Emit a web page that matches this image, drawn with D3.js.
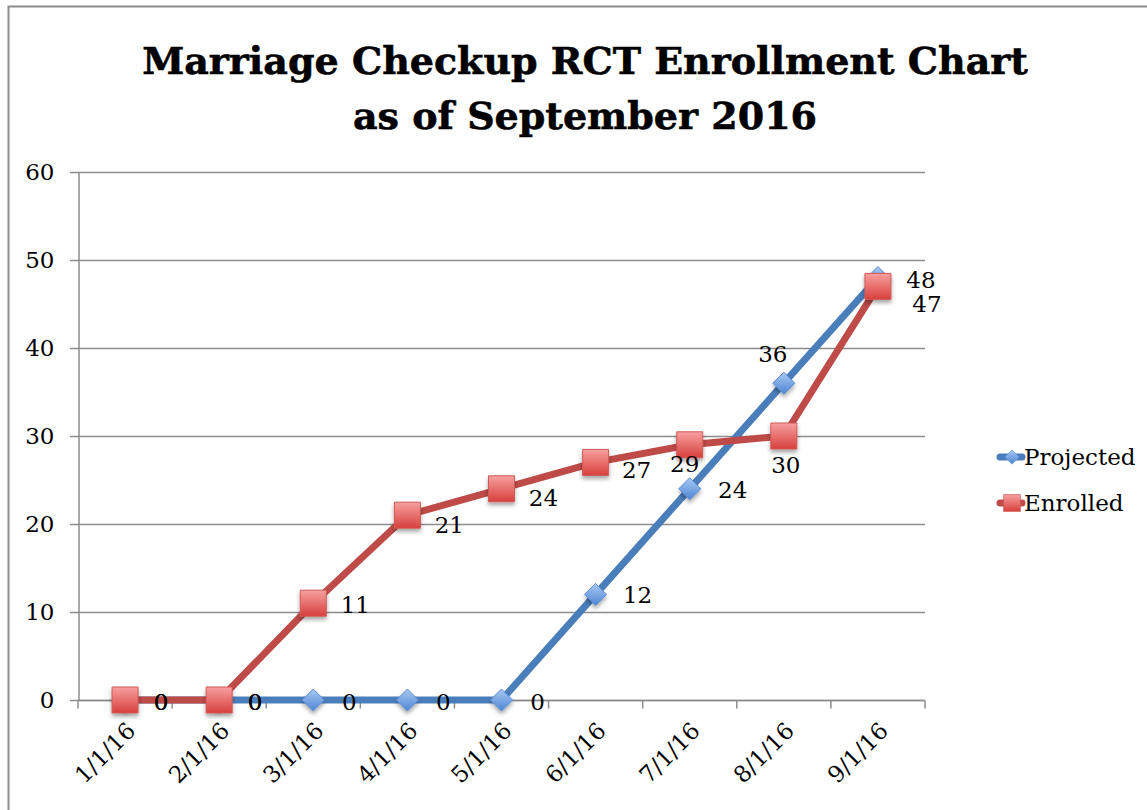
<!DOCTYPE html>
<html>
<head>
<meta charset="utf-8">
<script src="https://cdn.jsdelivr.net/npm/d3@7"></script>
<style>
  body { margin: 0; background: #fff; }
  svg { display: block; }
</style>
</head>
<body>
<div id="chart"></div>
<script>
/* DATA */
const dates = ["1/1/16", "2/1/16", "3/1/16", "4/1/16", "5/1/16", "6/1/16", "7/1/16", "8/1/16", "9/1/16"];
const projected = [0, 0, 0, 0, 0, 12, 24, 36, 48];
const enrolled = [0, 0, 11, 21, 24, 27, 29, 30, 47];
const yTicks = [0, 10, 20, 30, 40, 50, 60];
const titleLines = ["Marriage Checkup RCT Enrollment Chart", "as of September 2016"];

/* CONSTANTS */
const width = 1147, height = 810;
const margin = { top: 172, bottom: 110, left: 78, right: 222 };
const serif = "'DejaVu Serif', 'Liberation Serif', serif";
const blue = "#4a7ebb", red = "#be4b48";
const fs = 23;

const svg = d3.select("#chart").append("svg")
  .attr("width", width)
  .attr("height", height);

const defs = svg.append("defs");
const gBlue = defs.append("linearGradient").attr("id", "gBlue").attr("x1", 0).attr("y1", 0).attr("x2", 0).attr("y2", 1);
gBlue.append("stop").attr("offset", "0%").attr("stop-color", "#a9c8f2");
gBlue.append("stop").attr("offset", "100%").attr("stop-color", "#4f86d4");
const gRed = defs.append("linearGradient").attr("id", "gRed").attr("x1", 0).attr("y1", 0).attr("x2", 0).attr("y2", 1);
gRed.append("stop").attr("offset", "0%").attr("stop-color", "#f7a0a0");
gRed.append("stop").attr("offset", "100%").attr("stop-color", "#d8403c");
const shadow = defs.append("filter").attr("id", "shadow").attr("x", "-50%").attr("y", "-50%").attr("width", "200%").attr("height", "200%");
shadow.append("feDropShadow").attr("dx", 0).attr("dy", 3).attr("stdDeviation", 2).attr("flood-color", "#000").attr("flood-opacity", 0.35);

// outer frame (runs off the right and bottom of the picture)
svg.append("rect")
  .attr("x", 8.5).attr("y", 6.5)
  .attr("width", width + 20).attr("height", height + 20)
  .attr("fill", "none")
  .attr("stroke", "#8c8c8c")
  .attr("stroke-width", 2);

// title
svg.append("text")
  .attr("font-family", serif)
  .attr("font-weight", "bold")
  .attr("font-size", 38)
  .attr("text-anchor", "middle")
  .attr("stroke", "#000")
  .attr("stroke-width", 0.6)
  .selectAll("tspan")
  .data(titleLines)
  .join("tspan")
  .attr("x", 585)
  .attr("y", (d, i) => 74 + i * 55)
  .text(d => d);

/* SCALES */
const xScale = d3.scaleBand()
  .domain(dates)
  .range([margin.left, width - margin.right]);

const yScale = d3.scaleLinear()
  .domain([0, 60])
  .range([height - margin.bottom, margin.top]);

const xc = d => xScale(d) + xScale.bandwidth() / 2;

// gridlines
svg.append("g")
  .selectAll("line")
  .data(yTicks)
  .join("line")
  .attr("x1", margin.left - 8)
  .attr("x2", width - margin.right)
  .attr("y1", d => yScale(d) + 0.5)
  .attr("y2", d => yScale(d) + 0.5)
  .attr("stroke", "#8c8c8c")
  .attr("stroke-width", 1.5);

// y axis
const yAxisGroup = svg.append("g")
  .attr("transform", `translate(${margin.left + 0.5}, 0)`)
  .call(d3.axisLeft(yScale).tickValues(yTicks).tickSize(0).tickPadding(24));
yAxisGroup.select(".domain").attr("stroke", "#8c8c8c").attr("stroke-width", 1.5);
yAxisGroup.selectAll("text")
  .attr("font-family", serif)
  .attr("font-size", fs)
  .attr("fill", "#000");

// x axis
const xAxisGroup = svg.append("g")
  .attr("transform", `translate(0, ${yScale(0) + 0.5})`)
  .call(d3.axisBottom(xScale).tickSize(0).tickFormat(""));
xAxisGroup.select(".domain").remove();
xAxisGroup.append("line")
  .attr("x1", margin.left).attr("x2", width - margin.right)
  .attr("stroke", "#8c8c8c").attr("stroke-width", 1.5);
xAxisGroup.selectAll("line.bound")
  .data(d3.range(dates.length + 1))
  .join("line")
  .attr("class", "bound")
  .attr("x1", i => margin.left + i * xScale.step())
  .attr("x2", i => margin.left + i * xScale.step())
  .attr("y1", 0).attr("y2", 8)
  .attr("stroke", "#8c8c8c").attr("stroke-width", 1.5);
xAxisGroup.selectAll("text.lab")
  .data(dates)
  .join("text")
  .attr("class", "lab")
  .attr("transform", d => `translate(${xc(d) + 6}, 26) rotate(-45)`)
  .attr("text-anchor", "end")
  .attr("dy", "0.35em")
  .attr("font-family", serif)
  .attr("font-size", fs)
  .attr("fill", "#000")
  .text(d => d);

/* LINES */
const series = [
  { name: "Projected", values: projected, color: blue, fill: "url(#gBlue)", shape: "diamond" },
  { name: "Enrolled", values: enrolled, color: red, fill: "url(#gRed)", shape: "square" }
];

const line = d3.line()
  .x((d, i) => xc(dates[i]))
  .y(d => yScale(d));

const diamond = "M0,-11L11,0L0,11L-11,0Z";
const square = "M-13,-13H13V13H-13Z";

series.forEach(s => {
  const g = svg.append("g");
  g.append("path")
    .datum(s.values)
    .attr("d", line)
    .attr("fill", "none")
    .attr("stroke", s.color)
    .attr("stroke-width", 7)
    .attr("stroke-linejoin", "round");
  g.selectAll("path.mark")
    .data(s.values)
    .join("path")
    .attr("class", "mark")
    .attr("transform", (d, i) => `translate(${xc(dates[i])}, ${yScale(d)})`)
    .attr("d", s.shape === "diamond" ? diamond : square)
    .attr("fill", s.fill)
    .attr("stroke", s.shape === "diamond" ? "#5b8fd6" : "#d05a57")
    .attr("stroke-width", 1)
    .attr("filter", "url(#shadow)");
});

/* DATA LABELS */
// label offsets (x centre, baseline) from each point
const projOffset = [[36, 10], [36, 10], [36, 10], [36, 10], [36, 10], [42, 9], [43, 9], [-11, -21], [43, 10]];
const enrOffset = [[36, 10], [36, 10], [42, 10], [42, 18], [42, 17], [41, 16], [-5, 27], [2, 37], [49, 26]];

function labels(values, offs) {
  svg.append("g")
    .selectAll("text")
    .data(values)
    .join("text")
    .attr("x", (d, i) => xc(dates[i]) + offs[i][0])
    .attr("y", (d, i) => yScale(d) + offs[i][1])
    .attr("text-anchor", "middle")
    .attr("font-family", serif)
    .attr("font-size", fs)
    .attr("fill", "#000")
    .text(d => d);
}
labels(projected, projOffset);
labels(enrolled, enrOffset);

/* LEGEND */
const legend = svg.append("g").attr("transform", "translate(1000, 457)");
legend.selectAll("g")
  .data(series)
  .join("g")
  .attr("transform", (d, i) => `translate(0, ${i * 46})`)
  .each(function(s) {
    const g = d3.select(this);
    g.append("line")
      .attr("x1", 0).attr("x2", 22)
      .attr("stroke", s.color).attr("stroke-width", 7).attr("stroke-linecap", "round");
    g.append("path")
      .attr("transform", "translate(12, 0) scale(0.65)")
      .attr("d", s.shape === "diamond" ? diamond : square)
      .attr("fill", s.fill)
      .attr("stroke", s.shape === "diamond" ? "#5b8fd6" : "#d05a57");
    g.append("text")
      .attr("x", 24)
      .attr("dy", "0.35em")
      .attr("font-family", serif)
      .attr("font-size", fs)
      .text(s.name);
  });
</script>
</body>
</html>
